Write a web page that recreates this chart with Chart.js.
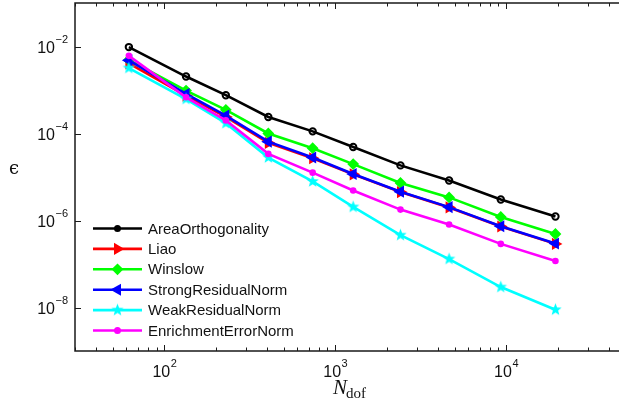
<!DOCTYPE html>
<html>
<head>
<meta charset="utf-8">
<script src="https://cdn.jsdelivr.net/npm/chart.js@4"></script>
<style>
  body { margin: 0; background: #fff; }
  #wrap { width: 619px; height: 402px; }
</style>
</head>
<body>
<div id="wrap"><canvas id="errChart" width="619" height="402"></canvas></div>
<script>
// data
const nDof = [62, 134, 229, 406, 738, 1274, 2410, 4640, 9310, 19450];
const areaOrth = [9.7e-3, 2.04e-3, 7.6e-4, 2.4e-4, 1.12e-4, 4.9e-5, 1.85e-5, 8.3e-6, 3.05e-6, 1.24e-6];
const liao = [4.1e-3, 7.4e-4, 2.4e-4, 6.1e-5, 2.7e-5, 1.15e-5, 4.5e-6, 2.0e-6, 7.3e-7, 2.9e-7];
const winslow = [4.9e-3, 9.7e-4, 3.5e-4, 1.0e-4, 4.6e-5, 1.98e-5, 7.3e-6, 3.4e-6, 1.21e-6, 4.9e-7];
const strongRes = [4.8e-3, 8.1e-4, 2.57e-4, 6.5e-5, 2.8e-5, 1.17e-5, 4.6e-6, 2.03e-6, 7.4e-7, 2.95e-7];
const weakRes = [3.2e-3, 6.2e-4, 1.72e-4, 2.8e-5, 7.9e-6, 2.05e-6, 4.6e-7, 1.3e-7, 2.95e-8, 8.9e-9];
const enrichErr = [6.1e-3, 6.8e-4, 2.0e-4, 3.4e-5, 1.26e-5, 4.9e-6, 1.78e-6, 8.1e-7, 2.9e-7, 1.17e-7];

const xTickExps = [2, 3, 4];
const yTickExps = [-8, -6, -4, -2];

// filled 5-point star marker (matlab pentagram)
function makeStar(color, r) {
  const c = document.createElement('canvas');
  const s = Math.ceil(r * 2 + 2);
  c.width = s; c.height = s;
  const g = c.getContext('2d');
  g.translate(s / 2, s / 2);
  g.beginPath();
  for (let i = 0; i < 10; i++) {
    const rr = i % 2 === 0 ? r : r * 0.42;
    const a = -Math.PI / 2 + i * Math.PI / 5;
    g.lineTo(rr * Math.cos(a), rr * Math.sin(a));
  }
  g.closePath();
  g.fillStyle = color;
  g.fill();
  return c;
}

const series = [
  { label: 'AreaOrthogonality', data: areaOrth, color: '#000000', style: 'circle', radius: 3.2, fill: 'rgba(0,0,0,0)', rot: 0 },
  { label: 'Liao', data: liao, color: '#ff0000', style: 'triangle', radius: 5, fill: '#ff0000', rot: 90 },
  { label: 'Winslow', data: winslow, color: '#00ff00', style: 'rectRot', radius: 4.5, fill: '#00ff00', rot: 0 },
  { label: 'StrongResidualNorm', data: strongRes, color: '#0000ff', style: 'triangle', radius: 5, fill: '#0000ff', rot: -90 },
  { label: 'WeakResidualNorm', data: weakRes, color: '#00ffff', style: makeStar('#00ffff', 6.5), radius: 6, fill: '#00ffff', rot: 0 },
  { label: 'EnrichmentErrorNorm', data: enrichErr, color: '#ff00ff', style: 'circle', radius: 2.3, fill: '#ff00ff', rot: 0 }
];

const datasets = series.map((s, i) => ({
  label: s.label,
  data: nDof.map((x, j) => ({ x: x, y: s.data[j] })),
  borderColor: s.color,
  backgroundColor: s.fill,
  borderWidth: 2.6,
  pointStyle: s.style,
  pointRotation: s.rot,
  pointRadius: s.radius,
  pointBorderWidth: 2,
  pointBorderColor: s.color,
  pointBackgroundColor: s.fill,
  tension: 0,
  order: series.length - 1 - i
}));

const axisColor = '#1a1a1a';

// box (right side falls outside the picture), inward ticks, tick labels, axis titles
const axesPlugin = {
  id: 'matlabAxes',
  afterDraw(chart) {
    const ctx = chart.ctx;
    const a = chart.chartArea;
    const xs = chart.scales.x, ys = chart.scales.y;
    ctx.save();
    ctx.strokeStyle = axisColor;
    ctx.lineWidth = 1.5;
    ctx.beginPath();
    ctx.moveTo(a.right + 5, a.top); ctx.lineTo(a.left, a.top);
    ctx.lineTo(a.left, a.bottom); ctx.lineTo(a.right + 5, a.bottom);
    ctx.stroke();

    ctx.lineWidth = 1;
    ctx.beginPath();
    // x ticks (major + minor), bottom and top
    for (let e = 1; e <= 5; e++) {
      for (let m = 1; m <= 9; m++) {
        const v = m * Math.pow(10, e);
        if (v < xs.min || v > xs.max) continue;
        const px = Math.round(xs.getPixelForValue(v)) + 0.5;
        const len = m === 1 ? 6 : 3.5;
        ctx.moveTo(px, a.bottom); ctx.lineTo(px, a.bottom - len);
        ctx.moveTo(px, a.top); ctx.lineTo(px, a.top + len);
      }
    }
    // y ticks
    yTickExps.forEach(e => {
      const py = Math.round(ys.getPixelForValue(Math.pow(10, e))) + 0.5;
      ctx.moveTo(a.left, py); ctx.lineTo(a.left + 6, py);
    });
    ctx.stroke();

    ctx.fillStyle = '#111';
    ctx.textBaseline = 'alphabetic';
    // y tick labels
    yTickExps.forEach(e => {
      const py = ys.getPixelForValue(Math.pow(10, e));
      ctx.font = '11px "Liberation Sans", Arial, sans-serif';
      const sup = '\u2212' + Math.abs(e);
      const supW = ctx.measureText(sup).width;
      ctx.textAlign = 'left';
      ctx.fillText(sup, 68 - supW, py - 3.5);
      ctx.font = '16px "Liberation Sans", Arial, sans-serif';
      ctx.textAlign = 'right';
      ctx.fillText('10', 68 - supW - 0.5, py + 6.5);
    });
    // x tick labels
    xTickExps.forEach(e => {
      const px = xs.getPixelForValue(Math.pow(10, e));
      ctx.font = '16px "Liberation Sans", Arial, sans-serif';
      const baseW = ctx.measureText('10').width;
      ctx.font = '11px "Liberation Sans", Arial, sans-serif';
      const supW = ctx.measureText(String(e)).width;
      const x0 = px - (baseW + supW) / 2;
      ctx.textAlign = 'left';
      ctx.font = '16px "Liberation Sans", Arial, sans-serif';
      ctx.fillText('10', x0, 377);
      ctx.font = '11px "Liberation Sans", Arial, sans-serif';
      ctx.fillText(String(e), x0 + baseW + 0.5, 367);
    });

    // axis titles
    ctx.font = '18px "DejaVu Serif", serif';
    ctx.textAlign = 'left';
    ctx.fillText('\u03f5', 9, 174);
    ctx.font = 'italic 21px "Liberation Serif", "DejaVu Serif", serif';
    ctx.fillText('N', 333, 394);
    const nW = ctx.measureText('N').width;
    ctx.font = '15px "Liberation Serif", "DejaVu Serif", serif';
    ctx.fillText('dof', 333 + nW - 1, 398);
    ctx.restore();
  }
};

// legend inside the axes, bottom-left, no box
const legendPlugin = {
  id: 'insideLegend',
  afterDraw(chart) {
    const ctx = chart.ctx;
    ctx.save();
    chart.data.datasets.forEach((ds, i) => {
      const y = 228.5 + i * 20.4;
      ctx.strokeStyle = ds.borderColor;
      ctx.lineWidth = 2.6;
      ctx.beginPath();
      ctx.moveTo(93, y); ctx.lineTo(142, y);
      ctx.stroke();
      ctx.fillStyle = ds.pointBackgroundColor;
      ctx.strokeStyle = ds.pointBorderColor;
      ctx.lineWidth = 2;
      const isDot = ds.pointStyle === 'circle';
      Chart.helpers.drawPoint(ctx, {
        pointStyle: ds.pointStyle,
        rotation: ds.pointRotation,
        radius: isDot ? 2.5 : ds.pointRadius,
        borderWidth: 2
      }, 117.5, y);
      if (isDot) { ctx.fillStyle = ds.borderColor; ctx.fill(); }
      ctx.fillStyle = '#111';
      ctx.font = '15px "Liberation Sans", Arial, sans-serif';
      ctx.textAlign = 'left';
      ctx.textBaseline = 'middle';
      ctx.fillText(ds.label, 148, y + 1);
    });
    ctx.restore();
  }
};

new Chart(document.getElementById('errChart').getContext('2d'), {
  type: 'line',
  data: { datasets: datasets },
  options: {
    responsive: false,
    animation: false,
    layout: { autoPadding: false, padding: { top: 3, right: 0, left: 0, bottom: 0 } },
    plugins: {
      legend: { display: false },
      tooltip: { enabled: false }
    },
    scales: {
      x: {
        type: 'logarithmic',
        min: 30,
        max: 45800,
        grid: { display: false },
        border: { display: false },
        ticks: { display: false },
        afterFit: s => { s.height = 51; }
      },
      y: {
        type: 'logarithmic',
        min: 1e-9,
        max: 1e-1,
        grid: { display: false },
        border: { display: false },
        ticks: { display: false },
        afterFit: s => { s.width = 75; }
      }
    }
  },
  plugins: [axesPlugin, legendPlugin]
});
</script>
</body>
</html>
